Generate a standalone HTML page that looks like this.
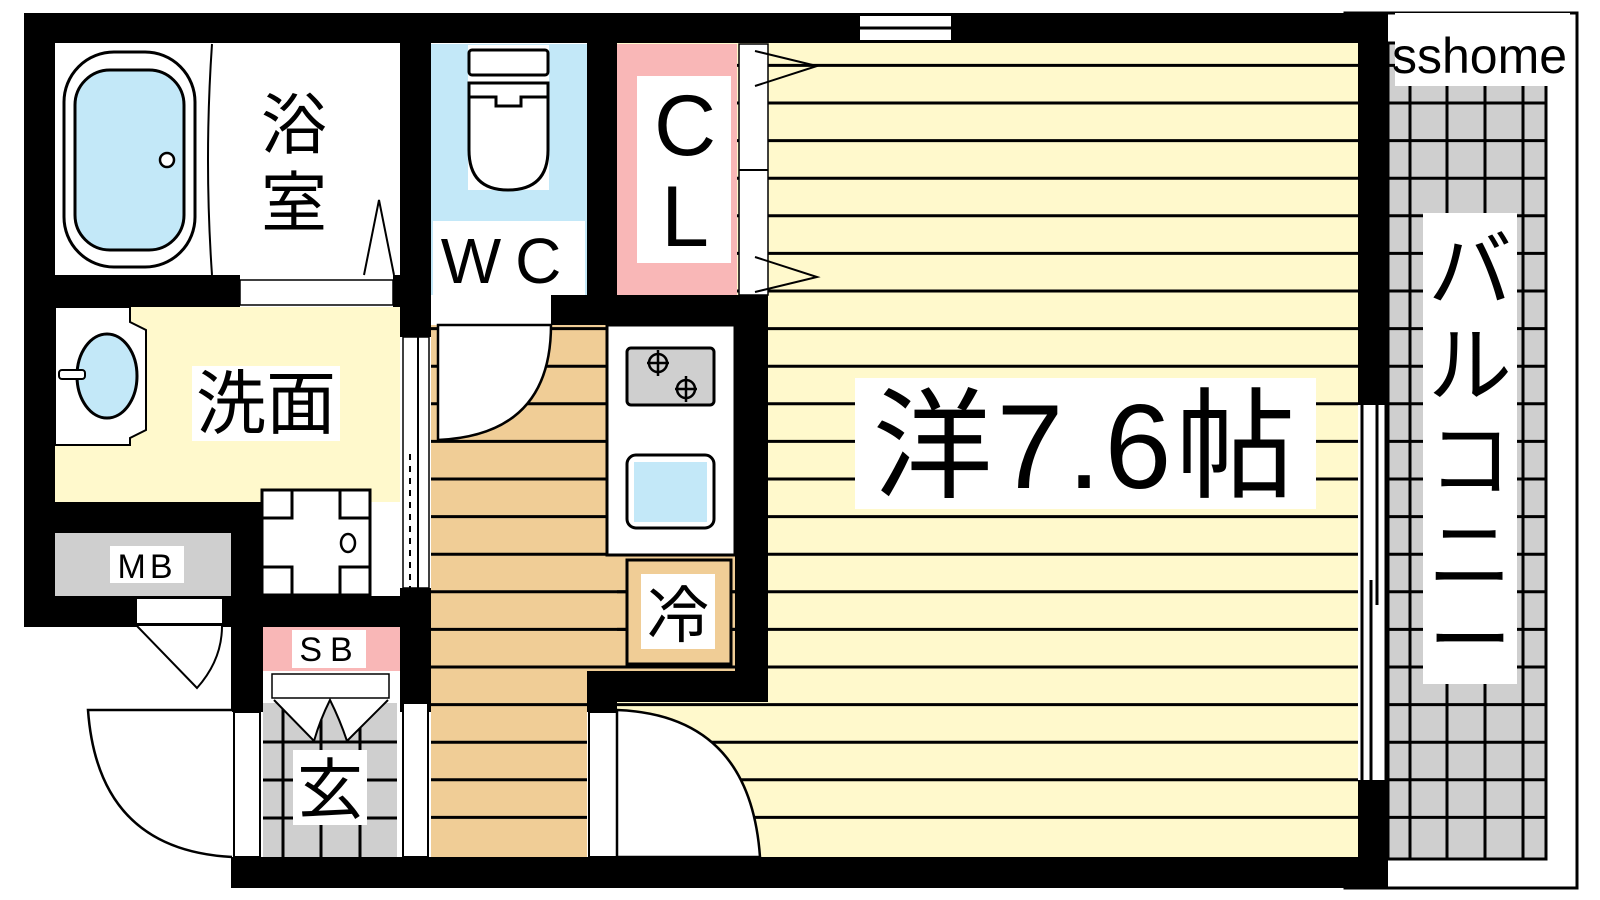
<!DOCTYPE html>
<html><head><meta charset="utf-8"><style>
html,body{margin:0;padding:0;background:#fff;width:1600px;height:900px;overflow:hidden}
svg{display:block}
text{font-family:"Liberation Sans","Noto Sans CJK JP",sans-serif;fill:#000}
</style></head><body>
<svg width="1600" height="900" viewBox="0 0 1600 900" xmlns="http://www.w3.org/2000/svg">
<defs>
<clipPath id="roomclip"><rect x="617" y="43" width="741" height="815"/></clipPath>
<clipPath id="tanclip"><path d="M431 325H735V672H587V857H431Z"/></clipPath>
<clipPath id="balclip"><rect x="1388" y="43" width="158" height="816"/></clipPath>
<clipPath id="genclip"><rect x="263" y="703" width="134" height="154"/></clipPath>
</defs>
<!-- balcony -->
<rect x="1345" y="13" width="232" height="875" fill="#fff" stroke="#000" stroke-width="3"/>
<rect x="1388" y="43" width="158" height="816" fill="#cfcfcf" stroke="#000" stroke-width="3"/>
<g clip-path="url(#balclip)" stroke="#000" stroke-width="3">
<path d="M1410 43V860M1447 43V860M1485 43V860M1523 43V860"/>
<path d="M1388 65.4H1546M1388 103H1546M1388 140.6H1546M1388 178.2H1546M1388 215.8H1546M1388 253.4H1546M1388 291H1546M1388 328.6H1546M1388 366.2H1546M1388 403.8H1546M1388 441.4H1546M1388 479H1546M1388 516.6H1546M1388 554.2H1546M1388 591.8H1546M1388 629.4H1546M1388 667H1546M1388 704.6H1546M1388 742.2H1546M1388 779.8H1546M1388 817.4H1546"/>
</g>
<rect x="1395" y="13" width="175" height="73" fill="#fff"/>
<text x="1392" y="73" font-size="50">sshome</text>
<rect x="1423" y="213" width="94" height="471" fill="#fff"/>
<g font-size="84" text-anchor="middle"><text x="1470" y="300">バ</text><text x="1470" y="395">ル</text><text x="1470" y="490">コ</text><text x="1470" y="585">ニ</text><text x="1470" y="670">ー</text></g>

<!-- room yellow -->
<rect x="617" y="43" width="741" height="815" fill="#fff9cc"/>
<rect x="55" y="307" width="345" height="195" fill="#fff9cc"/>
<!-- tan -->
<path d="M431 325H735V672H587V857H431Z" fill="#f0cd96"/>
<g stroke="#000" stroke-width="3">
<g clip-path="url(#roomclip)">
<path d="M617 65.4H1358M617 103H1358M617 140.6H1358M617 178.2H1358M617 215.8H1358M617 253.4H1358M617 291H1358M617 328.6H1358M617 366.2H1358M617 403.8H1358M617 441.4H1358M617 479H1358M617 516.6H1358M617 554.2H1358M617 591.8H1358M617 629.4H1358M617 667H1358M617 704.6H1358M617 742.2H1358M617 779.8H1358M617 817.4H1358"/>
</g>
<g clip-path="url(#tanclip)">
<path d="M431 328.6H735M431 366.2H735M431 403.8H735M431 441.4H735M431 479H735M431 516.6H735M431 554.2H735M431 591.8H735M431 629.4H735M431 667H735M431 704.6H735M431 742.2H735M431 779.8H735M431 817.4H735"/>
</g>
</g>

<!-- walls -->
<g fill="#000">
<rect x="24" y="13" width="1364" height="30"/>
<rect x="24" y="13" width="31" height="614"/>
<rect x="55" y="275" width="185" height="32"/>
<rect x="393" y="275" width="38" height="32"/>
<rect x="400" y="13" width="31" height="324"/>
<rect x="587" y="13" width="30" height="312"/>
<rect x="551" y="295" width="217" height="30"/>
<rect x="735" y="295" width="33" height="407"/>
<rect x="587" y="671" width="181" height="31"/>
<rect x="587" y="671" width="30" height="41"/>
<rect x="55" y="502" width="208" height="31"/>
<rect x="24" y="596" width="239" height="31"/>
<rect x="231" y="502" width="32" height="210"/>
<rect x="263" y="596" width="168" height="31"/>
<rect x="400" y="588" width="31" height="124"/>
<rect x="231" y="857" width="1157" height="31"/>
<rect x="1358" y="13" width="30" height="392"/>
<rect x="1358" y="780" width="30" height="108"/>
</g>
<!-- top window -->
<rect x="859" y="15" width="93" height="26" fill="#fff" stroke="#000" stroke-width="2"/>
<line x1="859" y1="28" x2="952" y2="28" stroke="#000" stroke-width="3"/>
<!-- right window -->
<rect x="1362" y="405" width="24" height="375" fill="#fff"/>
<g stroke="#000" stroke-width="3"><path d="M1362 405V780M1386 405V780M1371 580V780M1377 405V605"/></g>

<!-- bathroom -->
<rect x="55" y="43" width="345" height="232" fill="#fff"/>
<path d="M212 44 Q204 160 212 275" fill="none" stroke="#000" stroke-width="2"/>
<rect x="64" y="52" width="131" height="215" rx="50" fill="#fff" stroke="#000" stroke-width="3"/>
<rect x="75" y="70" width="109" height="180" rx="35" fill="#c3e8f8" stroke="#000" stroke-width="3"/>
<circle cx="167" cy="160" r="7" fill="#fff" stroke="#000" stroke-width="2.5"/>
<path d="M364 275 L379 200 L394 275" fill="#fff" stroke="#000" stroke-width="2"/>
<rect x="240" y="280" width="153" height="25" fill="#fff" stroke="#000" stroke-width="1.5"/>
<g font-size="66" text-anchor="middle"><text x="294" y="148">浴</text><text x="294" y="226">室</text></g>

<!-- WC -->
<rect x="431" y="44" width="156" height="251" fill="#c3e8f8"/>
<rect x="468" y="45" width="81" height="145" fill="#fff"/>
<rect x="469" y="50" width="79" height="25" rx="3" fill="#fff" stroke="#000" stroke-width="3"/>
<path d="M469 83 H548 V150 Q548 190 508 190 Q469 190 469 150 Z" fill="#fff" stroke="#000" stroke-width="3"/>
<path d="M469 97 H496 V106 H521 V97 H548" fill="none" stroke="#000" stroke-width="3"/>
<rect x="433" y="221" width="152" height="74" fill="#fff"/>
<text x="508" y="283" font-size="64" text-anchor="middle" letter-spacing="14">WC</text>
<rect x="438" y="298" width="113" height="25" fill="#fff"/>

<!-- CL -->
<rect x="617" y="44" width="120" height="251" fill="#f9b7b7"/>
<rect x="637" y="76" width="94" height="187" fill="#fff"/>
<g font-size="86" text-anchor="middle"><text x="685" y="155">C</text><text x="685" y="246">L</text></g>
<rect x="739" y="44" width="29" height="251" fill="#fff" stroke="#000" stroke-width="1.5"/>
<path d="M739 170H768" stroke="#000" stroke-width="2"/>
<path d="M755 86 L817 66 L755 51 M755 257 L817 277 L755 292" fill="none" stroke="#000" stroke-width="2"/>

<!-- washroom -->
<path d="M55 307 H130 V322 L146 330 V430 L130 438 V445 H55Z" fill="#fff" stroke="#000" stroke-width="2"/>
<ellipse cx="107" cy="376" rx="30" ry="42" fill="#c3e8f8" stroke="#000" stroke-width="3"/>
<rect x="59" y="370" width="26" height="9" rx="3" fill="#fff" stroke="#000" stroke-width="2"/>
<rect x="192" y="366" width="148" height="75" fill="#fff"/>
<text x="266" y="428" font-size="70" text-anchor="middle">洗面</text>
<rect x="403" y="337" width="26" height="251" fill="#fff" stroke="#000" stroke-width="1.5"/>
<path d="M418 337V588" stroke="#000" stroke-width="2"/>
<path d="M410 454V588" stroke="#000" stroke-width="2" stroke-dasharray="6 6"/>
<!-- washer -->
<rect x="262" y="490" width="108" height="105" fill="#fff" stroke="#000" stroke-width="3"/>
<path d="M262 518H292V490M340 490V518H370M262 567H292V595M340 595V567H370" fill="none" stroke="#000" stroke-width="3"/>
<ellipse cx="348" cy="543" rx="7" ry="9" fill="none" stroke="#000" stroke-width="2.5"/>

<!-- MB -->
<rect x="55" y="533" width="176" height="63" fill="#cfcfcf"/>
<rect x="110" y="546" width="74" height="37" fill="#fff"/>
<text x="147" y="578" font-size="34" text-anchor="middle" letter-spacing="4">MB</text>
<rect x="137" y="599" width="85" height="24" fill="#fff"/>
<path d="M137 626 L197 688 Q222 660 222 626" fill="#fff" stroke="#000" stroke-width="2"/>

<!-- SB -->
<rect x="263" y="627" width="137" height="44" fill="#f9b7b7"/>
<rect x="292" y="630" width="74" height="38" fill="#fff"/>
<text x="330" y="661" font-size="34" text-anchor="middle" letter-spacing="8">SB</text>
<rect x="272" y="674" width="117" height="24" fill="#fff" stroke="#000" stroke-width="1.5"/>

<!-- genkan -->
<rect x="263" y="703" width="134" height="154" fill="#cfcfcf"/>
<g clip-path="url(#genclip)" stroke="#000" stroke-width="3">
<path d="M283 703V857M321 703V857M360 703V857M263 742H397M263 780H397M263 818H397"/>
</g>
<path d="M274 700 L314 741 Q320 720 330 700 Q340 720 347 741 L388 700" fill="#fff" stroke="#000" stroke-width="2"/>
<rect x="293" y="750" width="74" height="75" fill="#fff"/>
<text x="330" y="813" font-size="66" text-anchor="middle">玄</text>
<rect x="403" y="703" width="25" height="154" fill="#fff" stroke="#000" stroke-width="2"/>
<!-- entrance door -->
<rect x="234" y="712" width="26" height="145" fill="#fff" stroke="#000" stroke-width="2"/>
<path d="M232 710 H88 Q98 850 232 857" fill="#fff" stroke="#000" stroke-width="2.5"/>

<!-- WC door arc -->
<path d="M438 325 H551 Q551 435 438 440 Z" fill="#fff" stroke="#000" stroke-width="2.5"/>

<!-- kitchen counter -->
<rect x="607" y="325" width="128" height="230" fill="#fff" stroke="#000" stroke-width="3"/>
<rect x="627" y="348" width="87" height="57" rx="4" fill="#cfcfcf" stroke="#000" stroke-width="3"/>
<g fill="none" stroke="#000" stroke-width="2.5"><ellipse cx="658" cy="363" rx="9" ry="9"/><ellipse cx="686" cy="389" rx="9" ry="9"/>
<path d="M658 350V376M647 363H669M686 376V402M675 389H697"/></g>
<rect x="627" y="455" width="87" height="73" rx="9" fill="#fff" stroke="#000" stroke-width="3"/>
<rect x="634" y="462" width="73" height="60" fill="#c3e8f8"/>
<!-- fridge -->
<rect x="627" y="560" width="104" height="104" fill="#f0cd96" stroke="#000" stroke-width="3"/>
<rect x="641" y="574" width="74" height="75" fill="#fff"/>
<text x="678" y="637" font-size="62" text-anchor="middle">冷</text>

<!-- room door -->
<rect x="589" y="712" width="28" height="145" fill="#fff" stroke="#000" stroke-width="2"/>
<path d="M617 710 Q750 715 760 857 H617 Z" fill="#fff" stroke="#000" stroke-width="2.5"/>

<!-- room label -->
<rect x="855" y="378" width="461" height="131" fill="#fff"/>
<text x="1086" y="488" font-size="120" text-anchor="middle" letter-spacing="4">洋7.6帖</text>
</svg>
</body></html>
